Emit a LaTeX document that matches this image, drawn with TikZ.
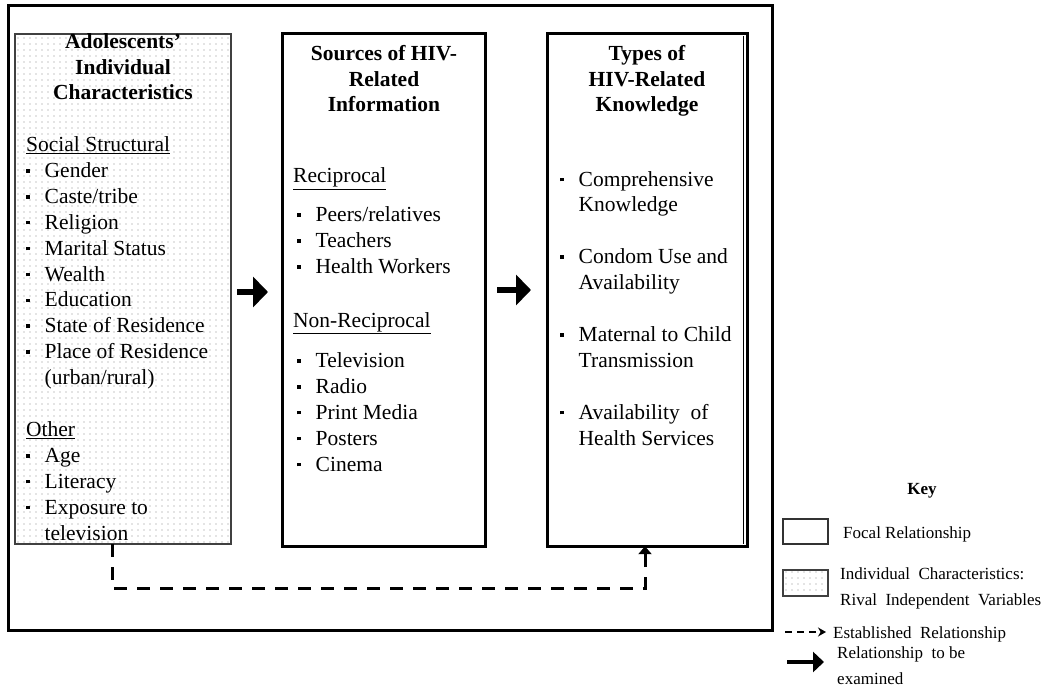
\documentclass[tikz,border=0pt]{standalone}
\usepackage{fontspec}
\setmainfont{Liberation Serif}
\usetikzlibrary{arrows.meta,patterns.meta}
\newcommand{\bul}{\raisebox{0.22em}{\rule{3.6pt}{3.6pt}}}
\newcommand{\itm}[1]{\makebox[18.5pt][l]{\bul}#1}
\newcommand{\cnt}[1]{\hspace*{18.5pt}#1}
\tikzset{
  frame/.style={draw, line width=3pt},
  focal/.style={draw, line width=3pt, fill=white},
  rival/.style={draw=black!75, line width=1.4pt,
    pattern={Dots[distance=6pt,radius=0.55pt]}, pattern color=black!45},
  boxtext/.style={inner sep=0pt, align=left,
    font=\fontsize{21.5}{25.9}\selectfont},
  titletext/.style={inner sep=0pt, align=center,
    font=\fontsize{21.5}{25.9}\selectfont\bfseries},
  keytext/.style={inner sep=0pt, align=left, anchor=base west,
    font=\fontsize{17}{26}\selectfont},
  bigarrow/.style={line width=6pt, -{Triangle[length=15pt,width=30pt]}},
  smallarrow/.style={line width=4pt, -{Triangle[length=11pt,width=20pt]}},
  established/.style={line width=3pt, dash pattern=on 13pt off 10pt,
    -{Triangle[length=8pt,width=13pt]}},
  keydash/.style={line width=1.6pt, dash pattern=on 7pt off 5pt,
    -{Stealth[length=8pt,width=9pt]}},
}
\begin{document}
\begin{tikzpicture}[x=1pt,y=-1pt]
\useasboundingbox (0,0) rectangle (1048,692);
\fill[white] (0,0) rectangle (1048,692);

% outer frame
\draw[frame] (8,6) rectangle (772,630);

% three boxes
\draw[rival] (15,34) rectangle (231,544);
\node[inner sep=0pt, minimum width=216pt, minimum height=510pt] (left) at (123,289) {};
\draw[focal] (282,34) rectangle (485,546);
\node[inner sep=0pt, minimum width=203pt, minimum height=512pt] (mid) at (383.5,290) {};
\draw[focal] (547,34) rectangle (747,546);
\draw[line width=0.8pt] (743.5,36) -- (743.5,544);
\node[inner sep=0pt, minimum width=200pt, minimum height=512pt] (right) at (647,290) {};

% left box contents (anchored at the baseline of the last line)
\node[titletext, anchor=base] (lt) at (123,100)
  {Adolescents’\\Individual\\Characteristics};
\node[boxtext, anchor=base west] (lc) at (26,540)
  {\underline{Social Structural}\\
   \itm{Gender}\\
   \itm{Caste/tribe}\\
   \itm{Religion}\\
   \itm{Marital Status}\\
   \itm{Wealth}\\
   \itm{Education}\\
   \itm{State of Residence}\\
   \itm{Place of Residence}\\
   \cnt{(urban/rural)}\\[25.9pt]
   \underline{Other}\\
   \itm{Age}\\
   \itm{Literacy}\\
   \itm{Exposure to}\\
   \cnt{television}};

% middle box contents
\node[titletext, anchor=base] (mt) at (384,112)
  {Sources of HIV-\\Related\\Information};
\node[boxtext, anchor=base west] (mc) at (293,471)
  {\underline{Reciprocal}\\[13pt]
   \hspace*{4pt}\itm{Peers/relatives}\\
   \hspace*{4pt}\itm{Teachers}\\
   \hspace*{4pt}\itm{Health Workers}\\[28pt]
   \underline{Non-Reciprocal}\\[14pt]
   \hspace*{4pt}\itm{Television}\\
   \hspace*{4pt}\itm{Radio}\\
   \hspace*{4pt}\itm{Print Media}\\
   \hspace*{4pt}\itm{Posters}\\
   \hspace*{4pt}\itm{Cinema}};

% right box contents
\node[titletext, anchor=base] (rt) at (647,112)
  {Types of\\HIV-Related\\Knowledge};
\node[boxtext, anchor=base west] (rc) at (560,445)
  {\itm{Comprehensive}\\
   \cnt{Knowledge}\\[25.9pt]
   \itm{Condom Use and}\\
   \cnt{Availability}\\[25.9pt]
   \itm{Maternal to Child}\\
   \cnt{Transmission}\\[25.9pt]
   \itm{Availability\ \ of}\\
   \cnt{Health Services}};

% relationships to be examined
\coordinate (a1s) at (237,292);
\coordinate (a1e) at (268,292);
\coordinate (a2s) at (497,290);
\coordinate (a2e) at (531,290);
\draw[bigarrow] (a1s) -- (a1e);
\draw[bigarrow] (a2s) -- (a2e);

% established relationship
\draw[established] ([xshift=-11pt]left.south) -- ++(0,44) -| ([xshift=-2pt]right.south);

% key
\node[font=\fontsize{17}{20}\selectfont\bfseries] (key) at (922,491) {Key};
\draw[line width=1.2pt, draw=black!80] (783,519) rectangle (828,544);
\node[inner sep=0pt, minimum width=45pt, minimum height=25pt] (kfocal) at (805.5,531.5) {};
\node[keytext] (kfocalt) at (843,538) {Focal Relationship};
\draw[rival, line width=1.2pt] (783,570) rectangle (828,596);
\node[inner sep=0pt, minimum width=45pt, minimum height=26pt] (krival) at (805.5,583) {};
\node[keytext] (krivalt) at (840,605) {Individual\ \ Characteristics:\\Rival\ \ Independent\ \ Variables};
\coordinate (kds) at (785,632);
\coordinate (kde) at (826,632);
\draw[keydash] (kds) -- (kde);
\node[keytext] (kdt) at (833,638) {Established\ \ Relationship};
\coordinate (kas) at (787,662);
\coordinate (kae) at (824,662);
\draw[smallarrow] (kas) -- (kae);
\node[keytext] (kat) at (837,684) {Relationship\ \ to be\\examined};
\end{tikzpicture}
\end{document}
